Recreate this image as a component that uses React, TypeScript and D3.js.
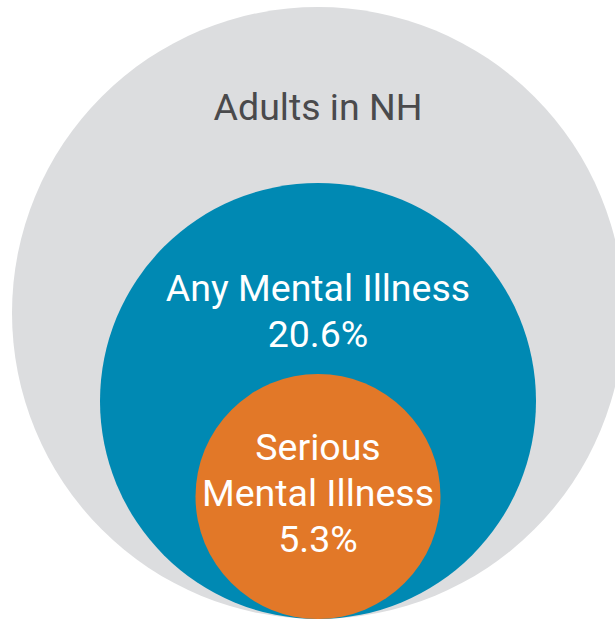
import React from "react";
import * as d3 from "d3";

const categories = ["Adults in NH", "Any Mental Illness", "Serious Mental Illness"];
const values = [100, 20.6, 5.3];
const labelLines = [["Adults in NH"], ["Any Mental Illness", "20.6%"], ["Serious", "Mental Illness", "5.3%"]];
const colors = ["#dcdddf", "#0089b3", "#e27828"];
const textColors = ["#4a4a4c", "#ffffff", "#ffffff"];

const W = 615;
const H = 623;

export default function App() {
  const cx = 318;
  const bottom = 619;
  // ordinal radius scale by rank of value
  const rScale = d3.scaleOrdinal<number, number>().domain(values).range([306, 218, 122.5]);
  const circles = values.map((v, i) => {
    const r = rScale(v);
    return { v, r, cy: bottom - r, i };
  });
  const labelTop = [120, 301, 460];
  const lineH = 46;
  return (
    <svg
      width={W}
      height={H}
      style={{ position: "absolute", left: 0, top: 0, background: "#fff" }}
      fontFamily="Roboto, 'Liberation Sans', sans-serif"
    >
      {circles.map((c) => (
        <circle key={c.i} cx={cx} cy={c.cy} r={c.r} fill={colors[c.i]} />
      ))}
      {labelLines.map((lines, i) =>
        lines.map((t, j) => (
          <text
            key={i + "-" + j}
            x={cx}
            y={labelTop[i] + j * lineH}
            textAnchor="middle"
            fontSize={37.5}
            fill={textColors[i]}
            aria-label={categories[i]}
          >
            {t}
          </text>
        ))
      )}
    </svg>
  );
}
